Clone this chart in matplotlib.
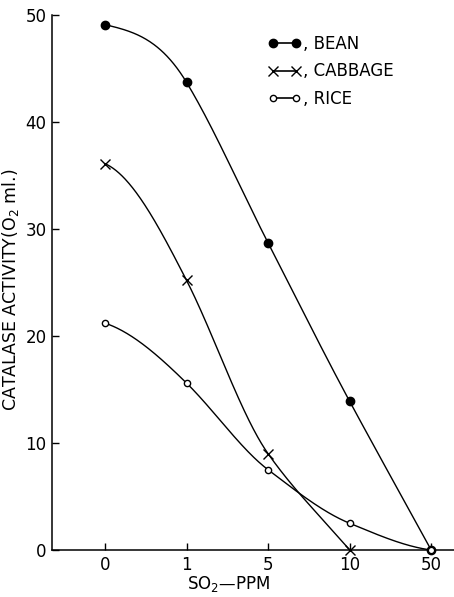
#!/usr/bin/env python3
"""Catalase activity vs SO2 concentration for bean, cabbage and rice."""

import matplotlib

matplotlib.use("Agg")
import matplotlib.pyplot as plt
import numpy as np
from matplotlib.lines import Line2D

ppm_labels = ["0", "1", "5", "10", "50"]
bean = [49.1, 43.7, 28.7, 13.9, 0.0]
cabbage = [36.1, 25.2, 9.0, 0.0]
rice = [21.2, 15.6, 7.5, 2.5, 0.0]


def hand_curve(y, xs, start=0.15, end=1.0):
    # hermite curve through the points; start/end scale the end tangents
    y = np.asarray(y, float)
    x = np.arange(len(y), dtype=float)
    d = np.diff(y)
    m = np.append(d, d[-1] * end)
    m[1:-1] = 0.25 * d[:-1] + 0.75 * d[1:]
    m[0] = d[0] * start
    idx = np.clip(np.floor(xs).astype(int), 0, len(x) - 2)
    t = xs - x[idx]
    h00 = 2 * t**3 - 3 * t**2 + 1
    h10 = t**3 - 2 * t**2 + t
    h01 = -2 * t**3 + 3 * t**2
    h11 = t**3 - t**2
    return h00 * y[idx] + h10 * m[idx] + h01 * y[idx + 1] + h11 * m[idx + 1]


plt.rcParams["font.family"] = "DejaVu Sans"
fig = plt.figure(figsize=(4.54, 5.97), dpi=100)
ax = fig.add_axes([0.1145, 0.0787, 0.8855, 0.8963])

series = [
    (bean, dict(marker="o", markersize=6, markerfacecolor="black"), ", BEAN", (0.35, 1.0)),
    (cabbage, dict(marker="x", markersize=7, markeredgewidth=1.0), ", CABBAGE", (0.3, 1.0)),
    (rice, dict(marker="o", markersize=4.5, markerfacecolor="white", markeredgewidth=1.0), ", RICE", (0.45, 0.4)),
]
handles = []
for vals, mk, label, (t0, t1) in series:
    xp = np.arange(len(vals))
    xs = np.linspace(0, len(vals) - 1, 400)
    ax.plot(xs, hand_curve(vals, xs, t0, t1), color="black", linewidth=1.0)
    ax.plot(xp, vals, linestyle="none", color="black", clip_on=False, zorder=5, **mk)
    handles.append(Line2D([0], [0], color="black", linewidth=1.2, label=label, **mk))

ax.set_xlim(-0.65, 4.28)
ax.set_ylim(0, 50)
ax.set_xticks(range(len(ppm_labels)))
ax.set_xticklabels(ppm_labels)
ax.set_yticks([0, 10, 20, 30, 40, 50])
ax.tick_params(direction="in", length=5, width=1.0, labelsize=12, pad=4)
for s in ("top", "right"):
    ax.spines[s].set_visible(False)
for s in ("left", "bottom"):
    ax.spines[s].set_linewidth(1.1)

ax.set_ylabel(r"CATALASE ACTIVITY(O$_2$ ml.)", fontsize=12.5)
ax.yaxis.set_label_coords(-0.077, 0.486)
ax.set_xlabel(r"SO$_2$—PPM", fontsize=12)
ax.xaxis.set_label_coords(0.44, -0.045)

ax.legend(handles=handles, loc="upper left", bbox_to_anchor=(0.50, 0.99), frameon=False,
          fontsize=12, handlelength=2.0, handletextpad=0.1, labelspacing=0.55, numpoints=2)

fig.savefig("out.png", dpi=100)
plt.close(fig)
